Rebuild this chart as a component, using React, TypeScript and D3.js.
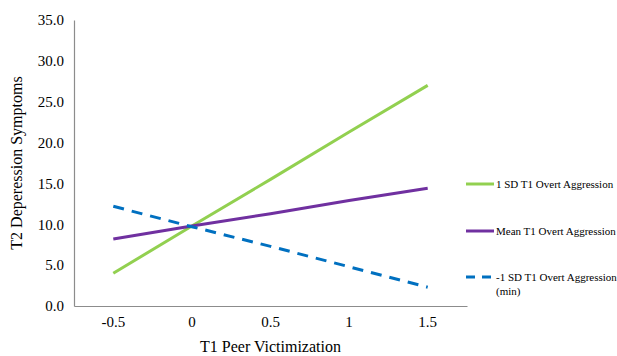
import { useEffect, useRef } from 'react'
import * as d3 from 'd3'

const categories = ['-0.5', '0', '0.5', '1', '1.5']
const highAggression = [4.0, 9.8, 15.5, 21.3, 27.0]
const meanAggression = [8.2, 9.8, 11.3, 12.9, 14.4]
const lowAggression = [12.2, 9.7, 7.3, 4.8, 2.3]
const yTicks = [0, 5, 10, 15, 20, 25, 30, 35]

const series = [
  { label: ['1 SD T1 Overt Aggression'], values: highAggression, color: '#92D050', dash: null },
  { label: ['Mean T1 Overt Aggression'], values: meanAggression, color: '#7030A0', dash: null },
  { label: ['-1 SD T1 Overt Aggression', '(min)'], values: lowAggression, color: '#0070C0', dash: '11,8' }
]

export default function App() {
  const svgRef = useRef<SVGSVGElement>(null)
  const width = 617
  const height = 356
  const margin = { top: 20, right: 150, bottom: 50, left: 74 }

  useEffect(() => {
    if (!svgRef.current) return
    const svg = d3.select(svgRef.current)
    svg.selectAll('*').remove()

    const innerWidth = width - margin.left - margin.right
    const innerHeight = height - margin.top - margin.bottom
    const font = '"Liberation Serif", "Times New Roman", serif'
    const axisColor = '#8c8c8c'

    const x = d3.scaleBand().domain(categories).range([0, innerWidth])
    const y = d3.scaleLinear().domain([0, 35]).range([innerHeight, 0])

    const g = svg.append('g').attr('transform', `translate(${margin.left},${margin.top})`)

    // axes
    const yAxis = g.append('g')
      .call(d3.axisLeft(y).tickValues(yTicks).tickSize(0).tickPadding(10).tickFormat(d => d3.format('.1f')(d as number)))
    yAxis.select('.domain').attr('stroke', axisColor).attr('stroke-width', 1.2)
    yAxis.selectAll('text').style('font-family', font).style('font-size', '15px').attr('fill', '#000')

    const xAxis = g.append('g')
      .attr('transform', `translate(0,${innerHeight})`)
      .call(d3.axisBottom(x).tickSize(0).tickPadding(10))
    xAxis.select('.domain').attr('stroke', axisColor).attr('stroke-width', 1.2)
    xAxis.selectAll('text').style('font-family', font).style('font-size', '15px').attr('fill', '#000')

    // axis titles
    g.append('text')
      .attr('x', innerWidth / 2)
      .attr('y', innerHeight + 46)
      .attr('text-anchor', 'middle')
      .style('font-family', font)
      .style('font-size', '16px')
      .text('T1 Peer Victimization')

    g.append('text')
      .attr('transform', `translate(${-52},${innerHeight / 2}) rotate(-90)`)
      .attr('text-anchor', 'middle')
      .style('font-family', font)
      .style('font-size', '16px')
      .text('T2 Deperession Symptoms')

    // lines
    const line = d3.line<number>()
      .x((_, i) => (x(categories[i]) || 0) + x.bandwidth() / 2)
      .y(d => y(d))

    series.forEach(s => {
      g.append('path')
        .datum(s.values)
        .attr('fill', 'none')
        .attr('stroke', s.color)
        .attr('stroke-width', 3)
        .attr('stroke-dasharray', s.dash)
        .attr('d', line)
    })

    // legend
    const legendY = [184, 231, 277]
    series.forEach((s, i) => {
      const lg = svg.append('g').attr('transform', `translate(466,${legendY[i]})`)
      lg.append('line')
        .attr('x1', 0).attr('x2', 28)
        .attr('stroke', s.color)
        .attr('stroke-width', 3)
        .attr('stroke-dasharray', s.dash ? '9,7' : null)
      s.label.forEach((t, j) => {
        lg.append('text')
          .attr('x', 30)
          .attr('y', 4 + j * 14)
          .style('font-family', font)
          .style('font-size', '11px')
          .text(t)
      })
    })
  }, [])

  return (
    <div style={{ position: 'absolute', left: 0, top: 0 }}>
      <svg ref={svgRef} width={width} height={height} style={{ display: 'block', background: '#fff' }} />
    </div>
  )
}
